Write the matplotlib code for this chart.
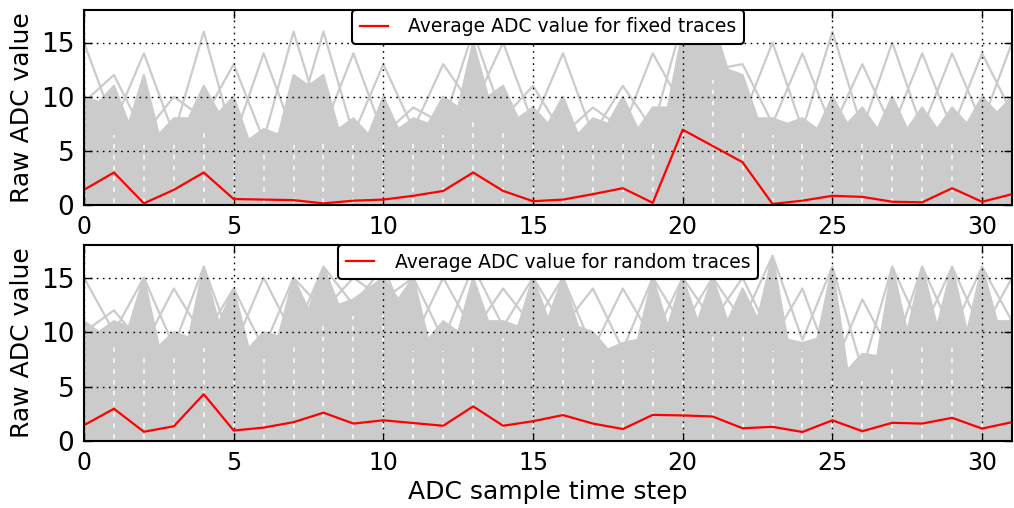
import numpy as np
import matplotlib
matplotlib.use("Agg")
import matplotlib.pyplot as plt

# ---------------- data ----------------
steps = np.arange(32)

# average ADC value (red lines)
fixed_avg = [1.4, 3.0, 0.15, 1.4, 3.0, 0.55, 0.5, 0.45, 0.15, 0.4, 0.5, 0.85,
             1.3, 3.0, 1.3, 0.35, 0.5, 1.0, 1.55, 0.2, 6.95, 5.45, 3.95, 0.1,
             0.4, 0.85, 0.75, 0.3, 0.25, 1.55, 0.3, 1.0]
random_avg = [1.45, 2.96, 0.85, 1.35, 4.3, 0.96, 1.23, 1.73, 2.6, 1.6, 1.9, 1.65,
              1.4, 3.18, 1.4, 1.82, 2.38, 1.6, 1.1, 2.4, 2.35, 2.25, 1.17, 1.3,
              0.83, 1.9, 0.9, 1.67, 1.6, 2.13, 1.14, 1.73]

# highest raw trace value at each time step
fixed_peak = [15, 12, 14, 10, 16, 13, 14, 16, 16, 14, 13, 9, 13, 16, 15, 11,
              14, 9, 11, 14, 17, 17, 13, 15, 14, 16, 13, 15, 14, 14, 14, 15]
random_peak = [15, 12, 15, 14, 16, 14, 15, 15, 16, 15, 16, 15, 15, 16, 14, 15,
               15, 14, 14, 15, 15, 15, 15, 17, 14, 16, 13, 16, 16, 16, 16, 15]

# level up to which the traces cover the plot densely, at each time step
fixed_dense = [10, 11, 12, 8, 11, 10, 7, 12, 12, 8, 10, 8, 10, 15, 11, 9,
               10, 8, 10, 9, 16, 16, 12, 8, 8, 10, 9, 10, 9, 9, 10, 10]
random_dense = [11, 11, 15, 10, 16, 14, 10, 15, 16, 13, 15, 15, 11, 15, 11, 15,
                15, 10, 9, 15, 15, 15, 14, 17, 9, 16, 8, 16, 16, 16, 16, 11]

# lowest level of the dense band between two consecutive steps
fixed_dip = [9.5, 7.5, 6.5, 8, 8.5, 6, 6.5, 11, 7, 6.5, 7, 7.5, 9, 10, 8, 7.5,
             6.5, 7.5, 7, 9, 15, 12.5, 8, 7.5, 7, 7.5, 7, 7, 7, 7.5, 8.5]
random_dip = [10, 10.5, 8.7, 9.5, 10.8, 8.5, 9.6, 12, 12.5, 14, 13, 9.3, 10, 11,
              10.5, 11.2, 10.5, 8.4, 9.3, 10.5, 11, 11, 11.2, 9.3, 9.4, 6.5, 7.8,
              10, 10.5, 10, 11]

labels = ["Average ADC value for fixed traces",
          "Average ADC value for random traces"]

# ---------------- style ----------------
plt.rcParams['font.family'] = ['DejaVu Sans']
plt.rcParams['lines.scale_dashes'] = False

gray = '#cbcbcb'
W, H = 1014, 508
fig = plt.figure(figsize=(W / 100, H / 100), dpi=100)

ax_top = fig.add_axes([84 / W, 1 - 205 / H, 928 / W, 195 / H])
ax_bot = fig.add_axes([84 / W, 1 - 441 / H, 928 / W, 196 / H])

unit_pt = 195 / 18 * 0.72  # one data unit on y in points (approx.)

panels = [
    (ax_top, fixed_avg, fixed_peak, fixed_dense, fixed_dip, labels[0]),
    (ax_bot, random_avg, random_peak, random_dense, random_dip, labels[1]),
]

for ax, avg, peak, dense, dip, lab in panels:
    peak = np.asarray(peak, float)
    dense = np.asarray(dense, float)
    dip = np.asarray(dip, float)

    # dense band: step values interleaved with the between-step dips
    xs = np.empty(2 * len(steps) - 1)
    ys = np.empty_like(xs)
    xs[0::2] = steps
    xs[1::2] = steps[:-1] + 0.5
    ys[0::2] = dense
    ys[1::2] = dip
    ax.fill_between(xs, 0, ys, color=gray, lw=0, zorder=1)
    ax.plot(xs, ys, color=gray, lw=1.6, zorder=1.2)

    # lowest neighbouring dip at each step
    left = np.concatenate([[dip[0]], dip])
    right = np.concatenate([dip, [dip[-1]]])
    low = np.minimum(left, right)

    # individual traces reaching the peaks (alternating steps)
    even = steps % 2 == 0
    trace_a = np.where(even, peak, low)
    trace_b = np.where(even, low, peak)
    for tr in (trace_a, trace_b):
        ax.plot(steps, tr, color=gray, lw=1.6, zorder=1.2)

    # white gaps between integer levels at each time step
    on = 0.42 * unit_pt
    ax.vlines(steps, 0, low - 1, colors='white', lw=1.1,
              linestyles=[(0.79 * unit_pt, (on, unit_pt - on))], zorder=1.4)

    # average line
    ax.plot(steps, avg, color='red', lw=1.6, zorder=3, label=lab)

    ax.set_xlim(0, 31)
    ax.set_ylim(0, 18)
    ax.set_xticks([0, 5, 10, 15, 20, 25, 30])
    ax.set_yticks([0, 5, 10, 15])
    ax.set_axisbelow(False)
    ax.grid(True, color='black', linestyle=(0, (1.2, 3.2)), lw=1.0, zorder=2)
    ax.tick_params(direction='in', top=True, right=True, length=6, width=1,
                   pad=7)
    ax.tick_params(axis='x', labelsize=17)
    ax.tick_params(axis='y', labelsize=19)
    for sp in ax.spines.values():
        sp.set_linewidth(1.5)
        sp.set_zorder(4)
    ax.set_ylabel('Raw ADC value', fontsize=18, labelpad=5)
    leg = ax.legend(loc='upper center', borderaxespad=0, fontsize=13.5,
                    handlelength=1.5, handletextpad=1.1, fancybox=True,
                    framealpha=1, borderpad=0.4)
    leg.get_frame().set_edgecolor('black')
    leg.get_frame().set_linewidth(1.5)
    leg.set_zorder(5)

ax_bot.set_xlabel('ADC sample time step', fontsize=18, labelpad=4)

fig.savefig('out.png', dpi=100)
